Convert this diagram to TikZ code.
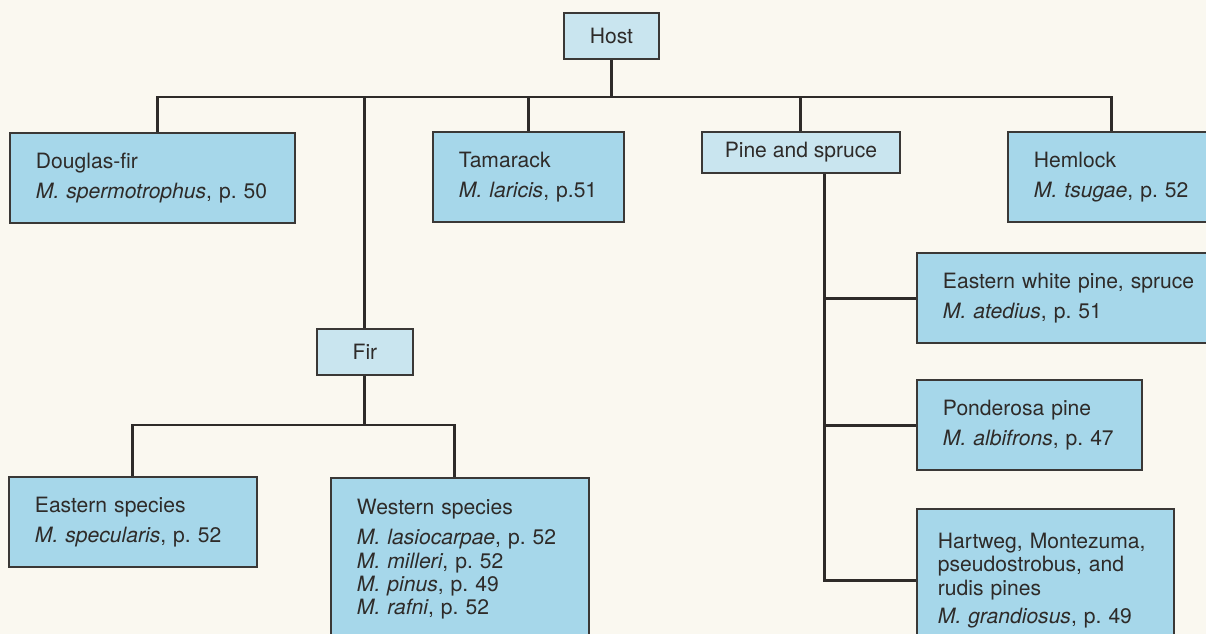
\documentclass[tikz,border=0pt]{standalone}
\usepackage{fontspec}
\setmainfont{TeX Gyre Heros}
\frenchspacing
\definecolor{paper}{HTML}{FAF8F0}
\definecolor{leafblue}{HTML}{A6D7EA}
\definecolor{headblue}{HTML}{C9E5EF}
\definecolor{edgegray}{HTML}{3A3836}
\definecolor{inkgray}{HTML}{2E2B29}

\begin{document}
\begin{tikzpicture}[x=0.02cm,y=-0.02cm]
\tikzset{Box/.style={draw=edgegray,line width=1.1pt,fill=leafblue,text=inkgray,
  font={\hyphenpenalty=10000\relax\fontsize{12}{13.3}\selectfont},inner xsep=0.52cm,inner ysep=0.4cm,
  anchor=north west,align=left}}
\tikzset{HeadBox/.style={Box,fill=headblue,align=center,inner sep=0pt}}
\tikzset{Link/.style={draw=inkgray,line width=1.7pt}}
\useasboundingbox (0,0) rectangle (1206,634);
\fill[paper] (0,0) rectangle (1206,634);
\clip (0,0) rectangle (1206,634);
% top of the key
\node[HeadBox,minimum width=1.9cm,minimum height=0.92cm] (Host) at (563,12) {Host};
\node[Box,text width=4.66cm,minimum height=1.54cm] (Douglas) at (9,132)
  {Douglas-fir\\[4pt]\textit{M. spermotrophus}, p. 50};
\node[Box,text width=2.78cm,minimum height=1.56cm] (Tamarack) at (432,131)
  {Tamarack\\[4pt]\textit{M. laricis}, p.51};
\node[HeadBox,minimum width=3.96cm,minimum height=0.82cm] (Pine) at (701,131) {Pine and spruce};
\node[Box,text width=3.12cm,minimum height=1.42cm] (Hemlock) at (1007,131)
  {Hemlock\\[4pt]\textit{M. tsugae}, p. 52};
% fir branch
\node[HeadBox,minimum width=1.92cm,minimum height=0.92cm] (Fir) at (316,328) {Fir};
\node[Box,text width=3.92cm,minimum height=1.46cm] (Eastern) at (8,476)
  {Eastern species\\[4pt]\textit{M. specularis}, p. 52};
\node[Box,text width=4.12cm,inner ysep=0.42cm] (Western) at (330,477)
  {Western species\\[4pt]\textit{M. lasiocarpae}, p. 52\\\textit{M. milleri}, p. 52\\
   \textit{M. pinus}, p. 49\\\textit{M. rafni}, p. 52};
% pine and spruce branch
\node[Box,text width=6cm,minimum height=1.54cm] (Ewp) at (916,252)
  {Eastern white pine, spruce\\[4pt]\textit{M. atedius}, p. 51};
\node[Box,text width=3.46cm,minimum height=1.6cm] (Ponderosa) at (916,379)
  {Ponderosa pine\\[4pt]\textit{M. albifrons}, p. 47};
\node[Box,text width=4.3cm,inner xsep=0.42cm,inner ysep=0.48cm] (Hartweg) at (916,508)
  {Hartweg, Montezuma,\\pseudostrobus, and\\rudis pines\\[3pt]\textit{M. grandiosus}, p. 49};

\coordinate (lvl1) at (0,97);
\coordinate (lvl2) at (0,425);
\coordinate (spine) at (824,0);
\draw[Link] ([xshift=0.11cm]Douglas.north) |- (Hemlock.north |- lvl1) -- (Hemlock.north);
\draw[Link] (Host.south) -- (Host.south |- lvl1);
\draw[Link] (Tamarack.north) -- (Tamarack.north |- lvl1);
\draw[Link] (Pine.north) -- (Pine.north |- lvl1);
\draw[Link] (Fir.north) -- (Fir.north |- lvl1);
\draw[Link] (Fir.south) -- (Fir.south |- lvl2);
\draw[Link] (Eastern.north) |- ([xshift=-0.1cm]Western.north |- lvl2) -- ([xshift=-0.1cm]Western.north);
\draw[Link] (Pine.south -| spine) |- (Hartweg.west);
\draw[Link] (Ewp.west) -- (Ewp.west -| spine);
\draw[Link] (Ponderosa.west) -- (Ponderosa.west -| spine);
\end{tikzpicture}
\end{document}
